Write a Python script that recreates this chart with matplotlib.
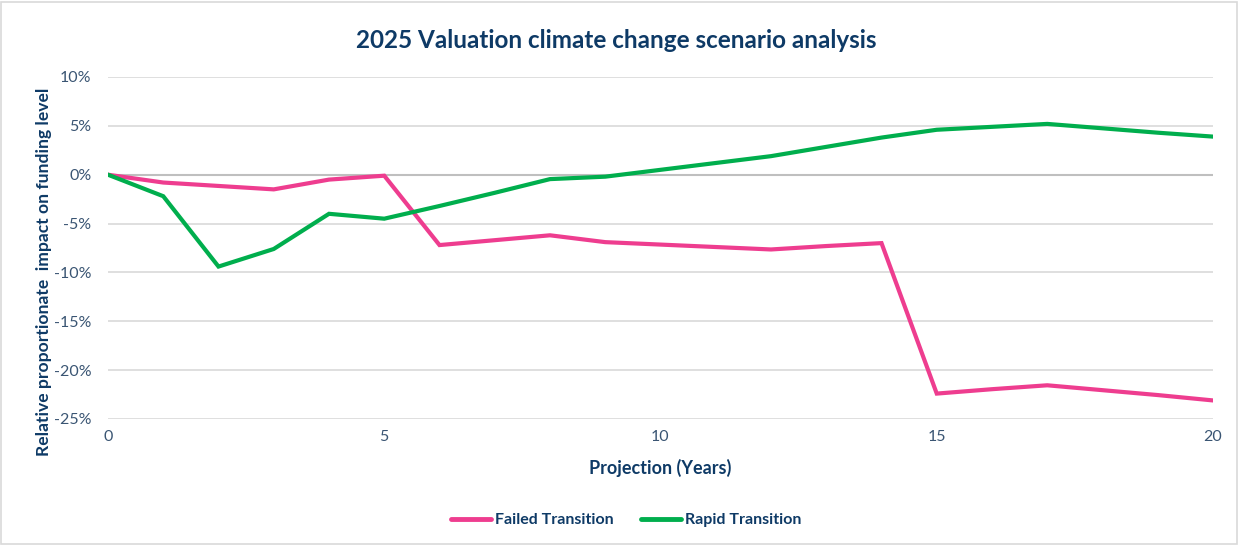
import matplotlib
matplotlib.use("Agg")
import matplotlib.pyplot as plt
from matplotlib.ticker import FuncFormatter, MultipleLocator
from matplotlib.patches import Rectangle

years = list(range(0, 21))
failed = [0, -0.8, -1.15, -1.5, -0.5, -0.1, -7.2, -6.7, -6.2, -6.9, -7.15,
          -7.4, -7.65, -7.3, -7.0, -22.4, -21.95, -21.55, -22.05, -22.55, -23.1]
rapid = [0, -2.2, -9.4, -7.6, -4.0, -4.5, -3.2, -1.85, -0.45, -0.2, 0.5,
         1.2, 1.9, 2.85, 3.8, 4.6, 4.9, 5.2, 4.75, 4.3, 3.9]
series_names = ["Failed Transition", "Rapid Transition"]
title = "2025 Valuation climate change scenario analysis"
xlabel = "Projection (Years)"
ylabel = "Relative proportionate  impact on funding level"

plt.rcParams['font.family'] = ['Lato', 'DejaVu Sans']
navy = "#0E3A66"
tickc = "#3A5573"
pink = "#EE3D8F"
green = "#00AE4D"

fig = plt.figure(figsize=(12.39, 5.45), dpi=100)
ax = fig.add_axes([108/1239, 1-419/545, (1213-108)/1239, (419-77)/545])

ax.plot(years, failed, color=pink, lw=3.0, label=series_names[0], solid_joinstyle='miter')
ax.plot(years, rapid, color=green, lw=3.0, label=series_names[1], solid_joinstyle='miter')

ax.set_xlim(0, 20)
ax.set_ylim(-25, 10)
ax.yaxis.set_major_locator(MultipleLocator(5))
ax.xaxis.set_major_locator(MultipleLocator(5))
ax.yaxis.set_major_formatter(FuncFormatter(lambda v, p: f"{v:.0f}%"))
ax.grid(axis='y', color="#D9D9D9", lw=1.2)
ax.axhline(0, color="#BFBFBF", lw=1.5, zorder=1)
ax.set_axisbelow(True)
for s in ax.spines.values():
    s.set_visible(False)
ax.tick_params(length=0, labelsize=11.5, colors=tickc, pad=8)
ax.tick_params(axis='y', pad=12)

ax.set_xlabel(xlabel, fontsize=13, fontweight='bold', color=navy, labelpad=11)
ax.set_ylabel(ylabel, fontsize=12.6, fontweight='bold', color=navy)
ax.yaxis.set_label_coords(-0.0505, 0.43)
fig.text(0.5 - 3/1239, 1-40/545, title, ha='center', va='center', fontsize=17.5,
         fontweight='bold', color=navy)

leg = fig.legend(loc='center', bbox_to_anchor=(626/1239, 1-520/545), ncol=2,
                 frameon=False, fontsize=11.5, handlelength=2.5, columnspacing=1.7,
                 handletextpad=0.25)
for t in leg.get_texts():
    t.set_color(navy)
    t.set_fontweight('bold')
for l in leg.get_lines():
    l.set_linewidth(3.5)
    l.set_solid_capstyle('round')

fig.patches.append(Rectangle((1/1239, 1/545), 1-3/1239, 1-3/545, transform=fig.transFigure,
                             fill=False, edgecolor="#D9D9D9", lw=1.2))

fig.savefig("out.png", dpi=100)
